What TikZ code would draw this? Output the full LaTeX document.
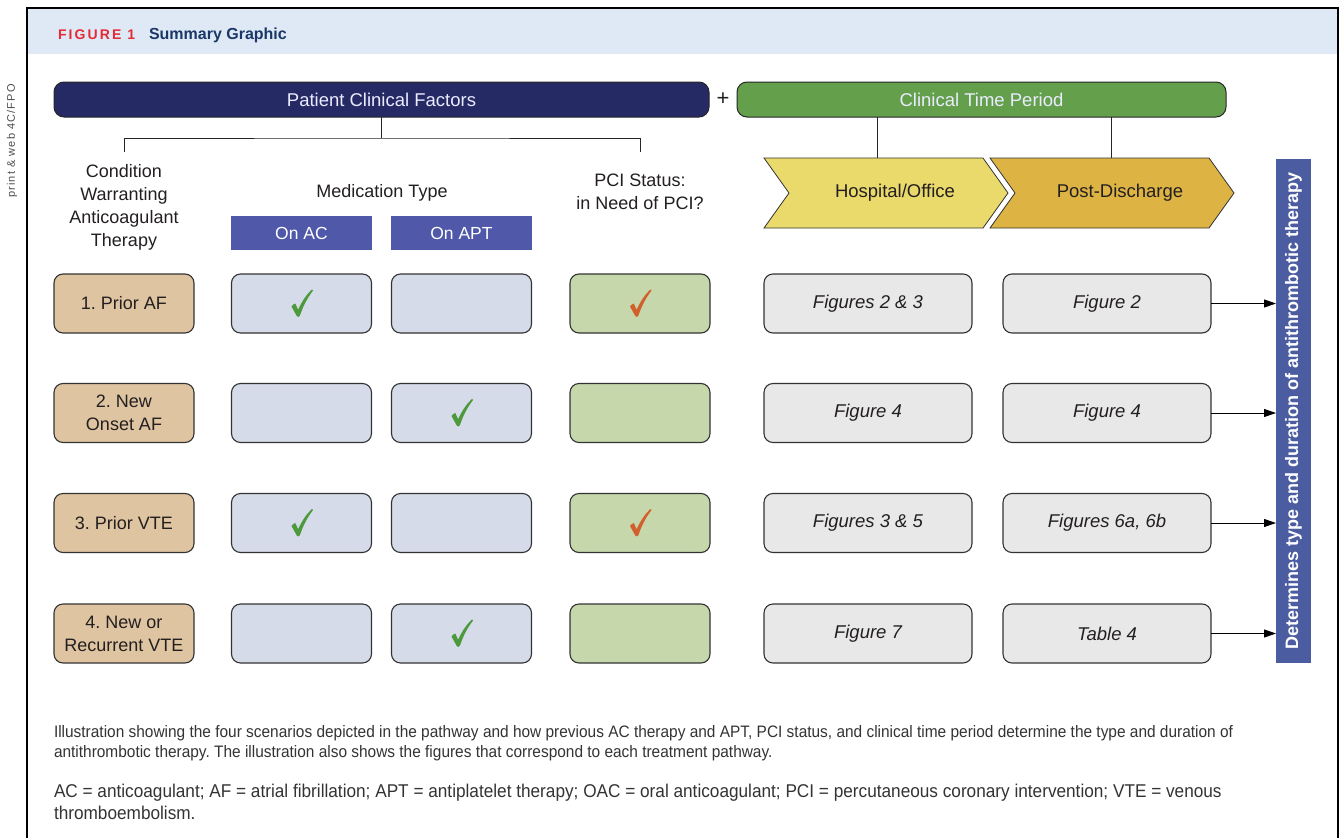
\documentclass[tikz,border=0pt]{standalone}
\usepackage{fontspec}
\setmainfont{Liberation Sans}
\newfontfamily\capfont{Liberation Sans}[FakeStretch=0.93]
\newfontfamily\spacedfont{Liberation Sans}[LetterSpace=15]
\newfontfamily\sidefont{Liberation Sans}[LetterSpace=10]
\usetikzlibrary{arrows.meta}
\frenchspacing

\definecolor{headband}{HTML}{DEE9F5}
\definecolor{figred}{HTML}{E42A37}
\definecolor{titlenavy}{HTML}{1A3767}
\definecolor{pcfnavy}{HTML}{262A64}
\definecolor{ctpgreen}{HTML}{64A04B}
\definecolor{tabblue}{HTML}{5058A9}
\definecolor{condtan}{HTML}{DFC4A1}
\definecolor{medblue}{HTML}{D6DBE9}
\definecolor{pcigreen}{HTML}{C6D8AB}
\definecolor{figgray}{HTML}{E8E8E9}
\definecolor{hospyellow}{HTML}{EADA6C}
\definecolor{postgold}{HTML}{DDB444}
\definecolor{barblue}{HTML}{4B5CA0}
\definecolor{inktext}{HTML}{231F20}
\definecolor{captext}{HTML}{333333}
\definecolor{tickgreen}{HTML}{4C9A3C}
\definecolor{tickorange}{HTML}{D0612C}

\begin{document}
\begin{tikzpicture}[x=1pt,y=-1pt,
  every node/.style={inner sep=0pt, outer sep=0pt},
  topbar/.style={draw=black!85, line width=1pt, rounded corners=10pt,
    minimum height=35pt, text=white!92!blue, font=\fontsize{18.5}{22}\selectfont},
  hdr/.style={align=center, text=inktext, font=\fontsize{18}{23}\selectfont},
  medtab/.style={fill=tabblue, minimum width=141pt, minimum height=34pt,
    text=white, font=\fontsize{17.5}{20}\selectfont},
  cell/.style={draw=black!80, line width=1.1pt, rounded corners=9pt,
    minimum width=140pt, minimum height=59pt, align=center, text=inktext,
    font=\fontsize{18}{23}\selectfont},
  condcell/.style={cell, fill=condtan},
  medcell/.style={cell, fill=medblue},
  pcicell/.style={cell, fill=pcigreen},
  figcell/.style={cell, fill=figgray, minimum width=208pt,
    font=\fontsize{18.5}{23}\selectfont\itshape},
  chev/.style={draw=black!80, line width=0.8pt},
  link/.style={draw=black!85, line width=1pt},
  outarrow/.style={draw=black, line width=1pt, -{Triangle[length=12pt,width=8pt]}},
  capline/.style={anchor=base west, text=captext},
  % brush-stroke check mark
  okmark/.pic={
    \fill (-10,3) .. controls (-8.5,1.2) and (-7.5,0.2) .. (-6.2,0)
      -- (-3.4,6.2)
      .. controls (0.5,-2.5) and (5.5,-9.5) .. (10.2,-13.8)
      .. controls (11,-14.2) and (11.8,-13.4) .. (11.3,-12.6)
      .. controls (6,-6) and (1.2,3.5) .. (-1.6,12.2)
      .. controls (-2.2,13.8) and (-4.2,13.8) .. (-4.8,12.4)
      -- cycle;
  }
]
\useasboundingbox (0,0) rectangle (1342,838);

% frame and heading band
\fill[headband] (28,9) rectangle (1337,54);
\draw[line width=2pt] (27,838) -- (27,8) -- (1338,8) -- (1338,838);
\node[anchor=base west, text=figred, font=\spacedfont\bfseries\fontsize{14}{16}\selectfont]
  (fignum) at (58,39) {FIGURE 1};
\node[anchor=base west, text=titlenavy, font=\bfseries\fontsize{16}{18}\selectfont]
  (figtitle) at (149,39) {Summary Graphic};
\node[rotate=90, text=black!70, font=\sidefont\fontsize{11}{12}\selectfont]
  (fpo) at (12,141) {print \& web 4C/FPO};

% top bars
\node[topbar, fill=pcfnavy, minimum width=655pt] (pcf) at (381.5,99.5) {Patient Clinical Factors};
\node[font=\fontsize{22}{22}\selectfont, text=inktext] (plus) at (723,99) {+};
\node[topbar, fill=ctpgreen, minimum width=489pt] (ctp) at (981.5,99.5) {Clinical Time Period};

% branching under patient clinical factors
\coordinate (tj) at (381.5,138);
\coordinate (condtick) at (124,152);
\coordinate (pcitick) at (640,152);
\draw[link] (pcf.south) -- (tj);
\draw[link] (condtick) |- (tj) -| (pcitick);

% column headings
\node[hdr] (condhead) at (124,207) {Condition\\Warranting\\Anticoagulant\\Therapy};
\node[hdr] (medhead) at (382,193) {Medication Type};
\node[hdr] (pcihead) at (640,192) {PCI Status:\\in Need of PCI?};
\node[medtab] (onac) at (301.5,233) {On AC};
\node[medtab] (onapt) at (461.5,233) {On APT};

% time period chevrons
\filldraw[chev, fill=hospyellow] (764,158) -- (983,158) -- (1008,193) -- (983,228)
  -- (764,228) -- (789,193) -- cycle;
\filldraw[chev, fill=postgold] (990,158) -- (1209,158) -- (1234,193) -- (1209,228)
  -- (990,228) -- (1015,193) -- cycle;
\node[font=\fontsize{18.5}{22}\selectfont, text=inktext] (hosp) at (895,193) {Hospital/Office};
\node[font=\fontsize{18.5}{22}\selectfont, text=inktext] (post) at (1120,193) {Post-Discharge};
\coordinate (hospjoin) at (877,158);
\coordinate (postjoin) at (1111,158);
\draw[link] (ctp.south -| hospjoin) -- (hospjoin);
\draw[link] (ctp.south -| postjoin) -- (postjoin);

% outcome bar
\node[fill=barblue, minimum width=35pt, minimum height=504pt] (outcome) at (1293.5,411) {};
\node[rotate=90, text=white, font=\bfseries\fontsize{18}{20}\selectfont]
  (outtext) at (outcome.center) {Determines type and duration of antithrombotic therapy};

% row 1
\node[condcell] (c1) at (124,303.5) {1. Prior AF};
\node[medcell] (a1) at (301.5,303.5) {};
\node[medcell] (p1) at (461.5,303.5) {};
\node[pcicell] (s1) at (640,303.5) {};
\node[figcell] (h1) at (868,303.5) {Figures 2 \& 3};
\node[figcell] (d1) at (1107,303.5) {Figure 2};

% row 2
\node[condcell] (c2) at (124,413) {2. New\\Onset AF};
\node[medcell] (a2) at (301.5,413) {};
\node[medcell] (p2) at (461.5,413) {};
\node[pcicell] (s2) at (640,413) {};
\node[figcell] (h2) at (868,413) {Figure 4};
\node[figcell] (d2) at (1107,413) {Figure 4};

% row 3
\node[condcell] (c3) at (124,523) {3. Prior VTE};
\node[medcell] (a3) at (301.5,523) {};
\node[medcell] (p3) at (461.5,523) {};
\node[pcicell] (s3) at (640,523) {};
\node[figcell] (h3) at (868,523) {Figures 3 \& 5};
\node[figcell] (d3) at (1107,523) {Figures 6a, 6b};

% row 4
\node[condcell] (c4) at (124,633.5) {4. New or\\Recurrent VTE};
\node[medcell] (a4) at (301.5,633.5) {};
\node[medcell] (p4) at (461.5,633.5) {};
\node[pcicell] (s4) at (640,633.5) {};
\node[figcell] (h4) at (868,633.5) {Figure 7};
\node[figcell] (d4) at (1107,633.5) {Table 4};

% check marks: medication in use and PCI needed
\pic[tickgreen] at (a1) {okmark};
\pic[tickorange] at (s1) {okmark};
\pic[tickgreen] at (p2) {okmark};
\pic[tickgreen] at (a3) {okmark};
\pic[tickorange] at (s3) {okmark};
\pic[tickgreen] at (p4) {okmark};

% arrows into the outcome bar
\foreach \r in {1,2,3,4}
  \draw[outarrow] (d\r.east) -- (d\r.east -| outcome.west);

% caption
\node[capline, font=\capfont\fontsize{16.6}{19}\selectfont] (cap1) at (54,737)
  {Illustration showing the four scenarios depicted in the pathway and how previous AC therapy and APT, PCI status, and clinical time period determine the type and duration of};
\node[capline, font=\capfont\fontsize{16.6}{19}\selectfont] (cap2) at (54,757)
  {antithrombotic therapy. The illustration also shows the figures that correspond to each treatment pathway.};
\node[capline, font=\capfont\fontsize{18.5}{21}\selectfont] (abb1) at (54,797)
  {AC = anticoagulant; AF = atrial fibrillation; APT = antiplatelet therapy; OAC = oral anticoagulant; PCI = percutaneous coronary intervention; VTE = venous};
\node[capline, font=\capfont\fontsize{18.5}{21}\selectfont] (abb2) at (54,819)
  {thromboembolism.};
\end{tikzpicture}
\end{document}
